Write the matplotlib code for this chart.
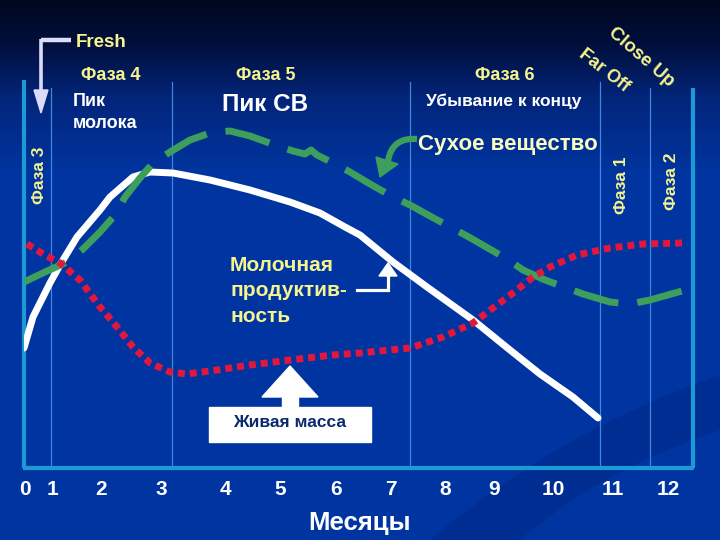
import matplotlib
matplotlib.use("Agg")
import matplotlib.pyplot as plt
import numpy as np
from matplotlib.colors import LinearSegmentedColormap
from matplotlib.patches import Rectangle, Polygon, PathPatch
from matplotlib.path import Path

# ---------------- data (x: position along lactation, y: relative level) -------------
milk_x = [0, 9, 26, 36, 53, 76, 86, 109, 126, 149, 186, 226, 266, 296, 321, 336,
          369, 403, 449, 486, 516, 549, 574]
milk_y = [120, 151, 185, 203, 231, 258, 271, 291, 296, 295, 288, 278, 266, 255, 241,
          233, 206, 181, 148, 118, 94, 71, 50]

dmi_x = [0, 21, 43, 58, 76, 91, 101, 116, 129, 146, 166, 186, 206, 226, 251, 269,
         281, 287, 293, 311, 326, 346, 369, 386, 426, 443, 483, 499, 521, 543, 559,
         586, 606, 626, 658]
dmi_y = [186, 196, 206, 218, 236, 253, 271, 290, 305, 316, 328, 335, 337, 332, 323,
         317, 314, 318, 313, 304, 296, 284, 271, 263, 241, 232, 209, 198, 188, 180,
         174, 166, 164, 168, 177]

bw_x = [3, 21, 36, 56, 76, 93, 109, 126, 146, 163, 193, 226, 266, 309, 336, 386,
        419, 449, 469, 489, 509, 526, 553, 586, 619, 658]
bw_y = [224, 213, 205, 188, 161, 141, 121, 105, 96, 94, 98, 103, 108, 113, 115, 120,
        131, 145, 160, 175, 191, 201, 213, 220, 224, 225]

month_labels = ["0", "1", "2", "3", "4", "5", "6", "7", "8", "9", "10", "11", "12"]
phase_top = ["Фаза 4", "Фаза 5", "Фаза 6"]
phase_side = ["Фаза 3", "Фаза 1", "Фаза 2"]

# ---------------- layout / style ----------------
tick_px = [25, 52, 101, 161, 225, 280, 336, 391, 445, 494, 553, 613, 668]
YELLOW = "#f6f48e"
GREEN = "#3d9f5b"
RED = "#e3173e"
BORDER = "#1b9ad6"
THIN = "#3f86e0"

plt.rcParams["font.family"] = ["Liberation Sans", "DejaVu Sans"]
plt.rcParams["font.weight"] = "bold"

fig = plt.figure(figsize=(7.2, 5.4), dpi=100)
bg = fig.add_axes([0, 0, 1, 1])
bg.set_xlim(0, 720)
bg.set_ylim(540, 0)
bg.axis("off")

grad = np.linspace(0, 1, 540).reshape(-1, 1)
cmap = LinearSegmentedColormap.from_list(
    "bg", [(0, "#000820"), (0.08, "#010f3c"), (0.18, "#03257a"),
           (0.32, "#0035a0"), (1, "#0034a0")])
bg.imshow(grad, aspect="auto", cmap=cmap, extent=(0, 720, 540, 0), zorder=0)

# faint darker swoosh, bottom right
swoosh = Path([(430, 540), (560, 430), (720, 375), (720, 430), (600, 470), (520, 540),
               (430, 540)],
              [Path.MOVETO, Path.CURVE3, Path.CURVE3, Path.LINETO, Path.CURVE3,
               Path.CURVE3, Path.CLOSEPOLY])
bg.add_patch(PathPatch(swoosh, facecolor="#001a66", edgecolor="none", alpha=0.25,
                       zorder=0.5))

# thin phase separators
for x, top in [(51, 88), (172, 82), (410, 82), (600, 82), (650, 88)]:
    bg.plot([x, x], [top, 468], color=THIN, lw=0.9, zorder=1)
# frame
bg.plot([24, 24], [80, 468], color=BORDER, lw=3, zorder=2, solid_capstyle="butt")
bg.plot([22.9, 694.1], [468, 468], color=BORDER, lw=3, zorder=2, solid_capstyle="butt")
bg.plot([693, 693], [88, 468], color=BORDER, lw=3, zorder=2, solid_capstyle="butt")

# ---------------- curves ----------------
ax = fig.add_axes([24 / 720, 72 / 540, 669 / 720, 388 / 540])
ax.set_xlim(0, 669)
ax.set_ylim(0, 388)
ax.axis("off")
ax.patch.set_alpha(0)

ax.plot(milk_x, milk_y, color="white", lw=5, solid_capstyle="round",
        solid_joinstyle="round", zorder=3)
ax.plot(dmi_x, dmi_y, color=GREEN, lw=5, ls=(0, (6.6, 2.75)),
        dash_capstyle="butt", dash_joinstyle="round", zorder=4)
ax.plot(bw_x, bw_y, color=RED, lw=5, ls=(0, (1, 0.72)),
        dash_capstyle="butt", zorder=5)

# ---------------- texts ----------------
for lab, x in zip(month_labels, tick_px):
    bg.text(x, 495, lab, color="white", fontsize=15, ha="center", va="baseline")
bg.text(360, 530, "Месяцы", color="white", fontsize=18.5, ha="center", va="baseline")

bg.text(76, 47, "Fresh", color=YELLOW, fontsize=13.5, ha="left", va="baseline")
for lab, x in zip(phase_top, [111, 266, 505]):
    bg.text(x, 80, lab, color=YELLOW, fontsize=13, ha="center", va="baseline")
bg.text(73, 106, "Пик", color="white", fontsize=13, ha="left", va="baseline")
bg.text(73, 128, "молока", color="white", fontsize=13, ha="left", va="baseline")
bg.text(265, 111, "Пик СВ", color="white", fontsize=17.5, ha="center", va="baseline")
bg.text(504, 106, "Убывание к концу", color="white", fontsize=12.5, ha="center",
        va="baseline")
bg.text(508, 150, "Сухое вещество", color="#fbfbc4", fontsize=16, ha="center",
        va="baseline")
for lab, (x, y) in zip(phase_side, [(39, 175), (622, 185), (671, 181)]):
    bg.text(x, y, lab, color=YELLOW, fontsize=12.5, ha="center", va="center",
            rotation=90, rotation_mode="anchor")
bg.text(604, 71, "Far Off", color=YELLOW, fontsize=13, ha="center", va="center",
        rotation=-38, rotation_mode="anchor")
bg.text(641, 57, "Close Up", color=YELLOW, fontsize=13.5, ha="center", va="center",
        rotation=-41, rotation_mode="anchor")
for lab, yb in zip(["Молочная", "продуктив-", "ность"], [271, 296.5, 322]):
    bg.text(230, yb, lab, color=YELLOW, fontsize=15, ha="left", va="baseline")

# ---------------- arrows & box ----------------
# Fresh L-arrow
bg.plot([71, 41], [40, 40], color="#dcdcfa", lw=3.2, solid_capstyle="butt", zorder=3)
bg.plot([41, 41], [38.8, 92], color="#dcdcfa", lw=2.6, solid_capstyle="butt", zorder=3)
bg.add_patch(Polygon([(34, 90), (48, 90), (41, 113)], closed=True,
                     color="#dcdcfa", zorder=3))

# Живая масса box + up arrow
bg.add_patch(Rectangle((209, 407), 162, 35, color="white", zorder=3))
bg.add_patch(Rectangle((282, 396), 16, 12, color="white", zorder=3))
bg.add_patch(Polygon([(262, 397), (318, 397), (290, 366)], closed=True,
                     color="white", zorder=3))
bg.text(290, 427, "Живая масса", color="#0c2a70", fontsize=12.5, ha="center",
        va="baseline", zorder=4)

# small bent arrow to milk curve
bg.plot([357, 388, 388], [290, 290, 274], color="white", lw=2.3,
        solid_joinstyle="miter", zorder=3)
bg.add_patch(Polygon([(379, 276), (397, 276), (388, 263)], closed=True,
                     color="white", zorder=3))

# green curved arrow to DMI curve
shaft = Path([(417, 139), (392, 137), (388, 161)],
             [Path.MOVETO, Path.CURVE3, Path.CURVE3])
bg.add_patch(PathPatch(shaft, facecolor="none", edgecolor=GREEN, lw=4.5,
                       capstyle="butt", zorder=3))
bg.add_patch(Polygon([(376, 157), (398, 164), (380, 177)], closed=True,
                     color=GREEN, zorder=3))

fig.savefig("out.png", dpi=100, facecolor="#0034a0")
